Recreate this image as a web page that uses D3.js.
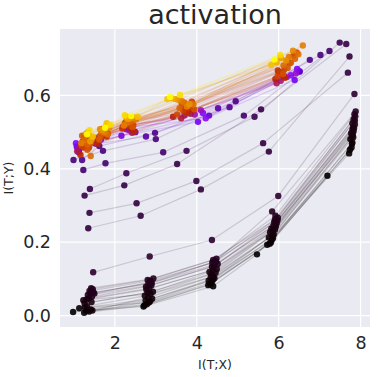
<!DOCTYPE html>
<html>
<head>
<meta charset="utf-8">
<script src="https://cdn.jsdelivr.net/npm/d3@7"></script>
<style>
  body { margin: 0; background: #fff; }
  text { font-family: "DejaVu Sans", sans-serif; fill: #262626; }
</style>
</head>
<body>
<div id="container"></div>
<script>
// logged epochs and the information plane coordinates of the 5 layers for each
const epochs = [
  0, 5, 10, 15, 20, 30, 40, 50, 60, 70, 80, 90, 100, 110, 120, 130, 140, 150, 160, 170, 180, 200,
  300, 350, 400, 450, 500, 700, 800, 900, 1100,
  1500, 2000, 2500, 3000,
  3500, 3900, 4200, 4500, 4700, 4900, 5100, 5300, 5500, 5650,
  5800, 5950, 6100, 6250, 6400, 6550, 6700, 6850, 7000, 7150,
  7300, 7450, 7600, 7750, 7900, 8100, 8300, 8500, 8800, 9100,
  9500, 10000
];

const ixt = [
  [0.98, 2.70, 4.40, 5.47, 7.19],
  [1.25, 2.72, 4.28, 5.72, 7.72],
  [1.30, 2.78, 4.33, 5.78, 7.74],
  [1.13, 2.83, 4.36, 5.81, 7.78],
  [1.37, 2.86, 4.29, 5.83, 7.79],
  [1.41, 2.75, 4.39, 5.86, 7.80],
  [1.27, 2.91, 4.43, 5.76, 7.75],
  [1.45, 2.81, 4.34, 5.85, 7.82],
  [1.32, 2.73, 4.41, 5.88, 7.79],
  [1.23, 2.87, 4.36, 5.79, 7.81],
  [1.26, 2.80, 4.46, 5.86, 7.77],
  [1.43, 2.93, 4.31, 5.91, 7.83],
  [1.31, 2.77, 4.40, 5.82, 7.80],
  [1.36, 2.84, 4.49, 5.93, 7.84],
  [1.44, 2.76, 4.37, 5.87, 7.82],
  [1.34, 2.89, 4.42, 5.95, 7.86],
  [1.40, 2.82, 4.51, 5.89, 7.80],
  [1.48, 2.90, 4.38, 5.97, 7.86],
  [1.38, 2.86, 4.47, 5.91, 7.83],
  [1.46, 2.80, 4.40, 5.98, 7.87],
  [1.42, 2.94, 4.48, 5.92, 7.85],
  [1.50, 2.88, 4.44, 5.84, 7.88],
  [1.47, 2.85, 4.37, 5.99, 7.85],
  [1.35, 2.63, 4.10, 5.76, 7.73],
  [1.38, 2.53, 3.99, 5.62, 7.69],
  [1.26, 2.23, 3.52, 5.57, 7.65],
  [1.39, 2.28, 3.75, 5.41, 7.49],
  [1.23, 1.77, 3.18, 5.15, 7.24],
  [0.99, 1.71, 3.00, 4.95, 7.02],
  [1.20, 1.62, 2.98, 4.80, 6.76],
  [1.12, 1.55, 2.76, 4.52, 6.51],
  [1.07, 1.58, 2.50, 4.30, 6.51],
  [1.12, 1.52, 2.16, 4.03, 6.39],
  [1.05, 1.66, 2.40, 4.15, 6.45],
  [1.18, 1.60, 2.30, 4.22, 6.30],
  [1.10, 1.62, 2.28, 4.10, 6.42],
  [1.15, 1.55, 2.35, 3.95, 6.20],
  [1.22, 1.68, 2.20, 3.70, 6.05],
  [1.08, 1.50, 2.42, 3.85, 5.95],
  [1.28, 1.72, 2.30, 3.62, 6.10],
  [1.18, 1.60, 2.38, 3.42, 5.92],
  [1.35, 1.75, 2.25, 3.78, 6.00],
  [1.16, 1.58, 2.48, 3.90, 6.15],
  [1.30, 1.66, 2.34, 3.66, 5.98],
  [1.24, 1.80, 2.18, 3.74, 6.08],
  [1.27, 1.69, 2.33, 3.72, 6.14],
  [1.21, 1.63, 2.41, 3.81, 6.27],
  [1.37, 1.73, 2.27, 3.67, 6.02],
  [1.29, 1.79, 2.37, 3.88, 6.36],
  [1.19, 1.67, 2.45, 3.52, 5.97],
  [1.42, 1.71, 2.29, 3.77, 6.21],
  [1.25, 1.83, 2.35, 3.63, 6.44],
  [1.33, 1.65, 2.43, 3.94, 6.11],
  [1.38, 1.70, 2.40, 3.80, 6.22],
  [1.20, 1.62, 2.26, 3.58, 6.30],
  [1.33, 1.76, 2.36, 3.86, 6.40],
  [1.41, 1.68, 2.44, 3.70, 6.12],
  [1.26, 1.82, 2.30, 3.92, 6.48],
  [1.36, 1.64, 2.52, 3.64, 6.25],
  [1.18, 1.74, 2.22, 3.76, 6.59],
  [1.44, 1.86, 2.38, 3.55, 6.35],
  [1.30, 1.70, 2.46, 3.82, 6.18],
  [1.40, 1.78, 2.32, 3.48, 6.05],
  [1.34, 1.84, 2.28, 3.40, 5.95],
  [1.46, 1.80, 2.56, 3.28, 5.82],
  [1.38, 1.88, 2.24, 3.59, 6.04],
  [1.32, 1.76, 2.40, 3.35, 5.90]
];

const ity = [
  [0.010, 0.025, 0.080, 0.167, 0.381],
  [0.008, 0.028, 0.083, 0.193, 0.442],
  [0.013, 0.031, 0.086, 0.196, 0.452],
  [0.020, 0.036, 0.091, 0.199, 0.458],
  [0.011, 0.039, 0.095, 0.206, 0.468],
  [0.017, 0.041, 0.097, 0.211, 0.472],
  [0.022, 0.046, 0.102, 0.213, 0.481],
  [0.014, 0.049, 0.105, 0.219, 0.486],
  [0.026, 0.054, 0.107, 0.221, 0.489],
  [0.042, 0.059, 0.113, 0.227, 0.495],
  [0.033, 0.063, 0.117, 0.231, 0.497],
  [0.037, 0.065, 0.119, 0.235, 0.503],
  [0.044, 0.071, 0.125, 0.237, 0.507],
  [0.047, 0.074, 0.127, 0.243, 0.511],
  [0.052, 0.079, 0.133, 0.245, 0.514],
  [0.056, 0.083, 0.135, 0.251, 0.521],
  [0.061, 0.087, 0.141, 0.255, 0.524],
  [0.063, 0.089, 0.145, 0.259, 0.532],
  [0.067, 0.095, 0.147, 0.262, 0.535],
  [0.072, 0.097, 0.152, 0.267, 0.543],
  [0.075, 0.101, 0.155, 0.272, 0.549],
  [0.060, 0.092, 0.146, 0.284, 0.556],
  [0.118, 0.161, 0.206, 0.326, 0.604],
  [0.238, 0.272, 0.344, 0.447, 0.706],
  [0.280, 0.306, 0.367, 0.470, 0.662],
  [0.327, 0.355, 0.413, 0.562, 0.740],
  [0.345, 0.388, 0.449, 0.542, 0.744],
  [0.397, 0.415, 0.445, 0.545, 0.721],
  [0.424, 0.449, 0.481, 0.584, 0.710],
  [0.424, 0.462, 0.498, 0.568, 0.697],
  [0.445, 0.468, 0.488, 0.565, 0.665],
  [0.460, 0.475, 0.500, 0.545, 0.665],
  [0.452, 0.470, 0.490, 0.528, 0.642],
  [0.470, 0.480, 0.505, 0.552, 0.672],
  [0.462, 0.485, 0.512, 0.538, 0.655],
  [0.455, 0.478, 0.508, 0.560, 0.660],
  [0.462, 0.482, 0.505, 0.548, 0.650],
  [0.470, 0.490, 0.515, 0.545, 0.640],
  [0.448, 0.472, 0.498, 0.550, 0.633],
  [0.476, 0.495, 0.520, 0.538, 0.655],
  [0.465, 0.485, 0.512, 0.542, 0.645],
  [0.480, 0.500, 0.525, 0.556, 0.662],
  [0.438, 0.468, 0.502, 0.562, 0.648],
  [0.485, 0.492, 0.518, 0.568, 0.668],
  [0.458, 0.488, 0.510, 0.552, 0.656],
  [0.468, 0.493, 0.521, 0.566, 0.671],
  [0.474, 0.487, 0.516, 0.571, 0.688],
  [0.458, 0.497, 0.527, 0.559, 0.664],
  [0.483, 0.503, 0.531, 0.583, 0.709],
  [0.462, 0.489, 0.519, 0.548, 0.652],
  [0.471, 0.509, 0.533, 0.574, 0.693],
  [0.487, 0.496, 0.524, 0.579, 0.717],
  [0.452, 0.491, 0.514, 0.562, 0.659],
  [0.472, 0.505, 0.530, 0.572, 0.675],
  [0.490, 0.480, 0.522, 0.565, 0.690],
  [0.466, 0.498, 0.528, 0.578, 0.700],
  [0.435, 0.502, 0.532, 0.580, 0.682],
  [0.478, 0.494, 0.526, 0.575, 0.712],
  [0.492, 0.508, 0.535, 0.584, 0.705],
  [0.470, 0.500, 0.518, 0.570, 0.736],
  [0.482, 0.512, 0.538, 0.588, 0.722],
  [0.496, 0.506, 0.540, 0.576, 0.695],
  [0.475, 0.515, 0.536, 0.590, 0.702],
  [0.500, 0.518, 0.542, 0.592, 0.690],
  [0.488, 0.524, 0.542, 0.590, 0.683],
  [0.505, 0.520, 0.546, 0.601, 0.710],
  [0.494, 0.512, 0.544, 0.596, 0.698]
];

const xTicks = [2, 4, 6, 8];
const yTicks = [0.0, 0.2, 0.4, 0.6];

const W = 378, H = 377;
const plot = { left: 60, right: 370, top: 29, bottom: 327 };

const svg = d3.select('#container')
  .append('svg')
  .attr('width', W)
  .attr('height', H);

const x = d3.scaleLinear().domain([0.66, 8.23]).range([plot.left, plot.right]);
const y = d3.scaleLinear().domain([-0.031, 0.781]).range([plot.bottom, plot.top]);

// matplotlib "gnuplot" colormap
const gnuplot = (t) => {
  const c = v => Math.round(255 * Math.max(0, Math.min(1, v)));
  return `rgb(${c(Math.sqrt(t))},${c(t * t * t)},${c(Math.sin(2 * Math.PI * t))})`;
};
const colorT = d3.scaleLinear().domain([0, d3.max(epochs)]).range([0, 1]);

svg.append('rect')
  .attr('x', plot.left)
  .attr('y', plot.top)
  .attr('width', plot.right - plot.left)
  .attr('height', plot.bottom - plot.top)
  .attr('fill', '#eaeaf2');

const grid = svg.append('g').attr('stroke', '#fff').attr('stroke-width', 1.2);
grid.selectAll('.vx').data(xTicks).enter().append('line')
  .attr('x1', d => x(d)).attr('x2', d => x(d))
  .attr('y1', plot.top).attr('y2', plot.bottom);
grid.selectAll('.hy').data(yTicks).enter().append('line')
  .attr('x1', plot.left).attr('x2', plot.right)
  .attr('y1', d => y(d)).attr('y2', d => y(d));

svg.append('clipPath').attr('id', 'clip')
  .append('rect')
  .attr('x', plot.left).attr('y', plot.top)
  .attr('width', plot.right - plot.left).attr('height', plot.bottom - plot.top);

const marks = svg.append('g').attr('clip-path', 'url(#clip)');
const line = d3.line().x(d => x(d[0])).y(d => y(d[1]));

epochs.forEach((ep, i) => {
  const pts = ixt[i].map((v, j) => [v, ity[i][j]]);
  const col = gnuplot(colorT(ep));
  marks.append('path')
    .attr('d', line(pts))
    .attr('fill', 'none')
    .attr('stroke', col)
    .attr('stroke-width', 1.2)
    .attr('stroke-opacity', 0.16);
  marks.selectAll(null).data(pts).enter().append('circle')
    .attr('cx', d => x(d[0]))
    .attr('cy', d => y(d[1]))
    .attr('r', 3.2)
    .attr('fill', col)
    .attr('fill-opacity', 0.9);
});

const xAxis = svg.append('g')
  .attr('transform', `translate(0,${plot.bottom})`)
  .call(d3.axisBottom(x).tickValues(xTicks).tickSize(0).tickPadding(10).tickFormat(d3.format('d')));
const yAxis = svg.append('g')
  .attr('transform', `translate(${plot.left},0)`)
  .call(d3.axisLeft(y).tickValues(yTicks).tickSize(0).tickPadding(9).tickFormat(d3.format('.1f')));
[xAxis, yAxis].forEach(a => {
  a.select('.domain').remove();
  a.selectAll('text').attr('font-size', 17.5).attr('font-family', 'DejaVu Sans').attr('fill', '#262626');
});

svg.append('text')
  .attr('x', (plot.left + plot.right) / 2)
  .attr('y', 24)
  .attr('text-anchor', 'middle')
  .attr('font-size', 27)
  .text('activation');

svg.append('text')
  .attr('x', (plot.left + plot.right) / 2)
  .attr('y', 369)
  .attr('text-anchor', 'middle')
  .attr('font-size', 12.5)
  .text('I(T;X)');

svg.append('text')
  .attr('transform', `translate(13,${(plot.top + plot.bottom) / 2}) rotate(-90)`)
  .attr('text-anchor', 'middle')
  .attr('font-size', 12.5)
  .text('I(T;Y)');
</script>
</body>
</html>
